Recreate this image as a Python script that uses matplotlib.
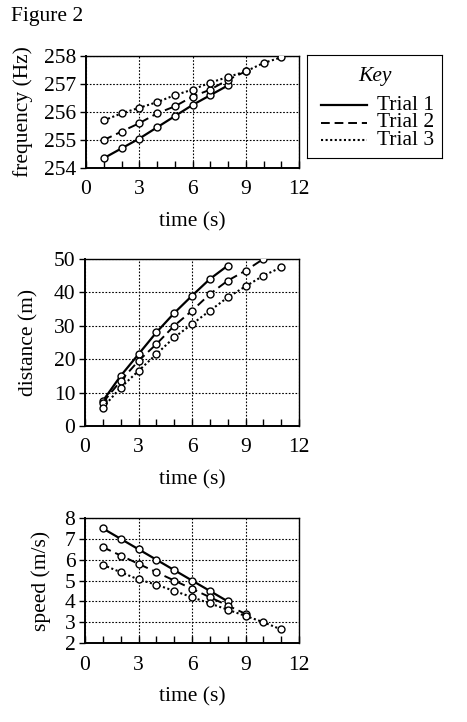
import matplotlib
matplotlib.use("Agg")
import matplotlib.pyplot as plt
from matplotlib.lines import Line2D

plt.rcParams['font.family'] = ['Liberation Serif', 'DejaVu Serif']

# data
t1 = [1, 2, 3, 4, 5, 6, 7, 8]
t2_freq = [1, 2, 3, 4, 5, 6, 7, 8, 9]
t3 = [1, 2, 3, 4, 5, 6, 7, 8, 9, 10, 11]
t2_dist = [1, 2, 3, 4, 5, 6, 7, 8, 9, 10]

freq1 = [254.35, 254.7, 255.05, 255.45, 255.85, 256.25, 256.6, 256.95]
freq2 = [255.0, 255.3, 255.6, 255.95, 256.2, 256.55, 256.8, 257.15, 257.45]
freq3 = [255.7, 255.95, 256.15, 256.35, 256.6, 256.8, 257.05, 257.25, 257.45, 257.75, 257.95]

dist1 = [7.5, 15, 21.5, 28, 33.8, 39, 44, 48]
dist2 = [7, 13.5, 19.5, 24.5, 30, 34.5, 39.5, 43.5, 46.5, 50]
dist3 = [5.5, 11.5, 16.5, 21.5, 26.5, 30.5, 34.5, 38.5, 41.8, 45, 47.5]

speed1 = [7.5, 7.0, 6.5, 6.0, 5.5, 5.0, 4.5, 4.0]
speed2 = [6.6, 6.2, 5.8, 5.4, 5.0, 4.6, 4.2, 3.8, 3.4]
speed3 = [5.75, 5.4, 5.05, 4.8, 4.5, 4.2, 3.9, 3.6, 3.3, 3.0, 2.65]

W, H = 467, 722
FS = 15.5
fig = plt.figure(figsize=(W / 100, H / 100), dpi=100)


def box(l, r, t, b):
    return [l / W, 1 - b / H, (r - l) / W, (b - t) / H]


styles = [('-', 1.6), ((0, (4.5, 2.5)), 1.4), ((0, (1, 1.2)), 1.5)]


def panel(rect, series, ylim, yticks, ylabel, ypad):
    ax = fig.add_axes(rect)
    for (x, y), (ls, lw) in zip(series, styles):
        ax.plot(x, y, color='black', linestyle=ls, linewidth=lw,
                marker='o', markersize=5, markerfacecolor='white',
                markeredgecolor='black', markeredgewidth=1.0, zorder=3)
    ax.set_xlim(0, 12)
    ax.set_ylim(*ylim)
    ax.set_xticks([0, 3, 6, 9, 12])
    ax.set_xticks(range(13), minor=True)
    ax.set_yticks(yticks)
    ax.grid(True, which='major', color='black', linestyle=(0, (1.5, 1.5)),
            linewidth=0.8)
    ax.tick_params(axis='x', which='both', direction='in', labelsize=FS,
                   length=5, width=1, pad=9)
    ax.tick_params(axis='y', direction='out', labelsize=FS, length=4,
                   width=1, pad=3)
    for s in ax.spines.values():
        s.set_linewidth(1.0)
    ax.spines['bottom'].set_linewidth(1.4)
    ax.spines['left'].set_linewidth(1.4)
    ax.set_xlabel('time (s)', fontsize=FS, labelpad=9)
    ax.set_ylabel(ylabel, fontsize=FS, labelpad=ypad)
    return ax


panel(box(86, 299, 56, 168),
      [(t1, freq1), (t2_freq, freq2), (t3, freq3)],
      (254, 258), [254, 255, 256, 257, 258], 'frequency (Hz)', 8)
panel(box(85, 299, 259, 426),
      [(t1, dist1), (t2_dist, dist2), (t3, dist3)],
      (0, 50), [0, 10, 20, 30, 40, 50], 'distance (m)', 11)
panel(box(85, 299, 518, 643),
      [(t1, speed1), (t2_freq, speed2), (t3, speed3)],
      (2, 8), [2, 3, 4, 5, 6, 7, 8], 'speed (m/s)', 10)

fig.text(11 / W, 1 - 16 / H, 'Figure 2', fontsize=FS, va='center', ha='left')

# key box
kax = fig.add_axes(box(307, 442, 55, 158))
kax.set_xticks([])
kax.set_yticks([])
kax.set_xlim(0, 1)
kax.set_ylim(0, 1)
kax.text(0.5, 0.79, 'Key', style='italic', fontsize=FS, ha='center',
         va='center')
labels = ['Trial 1', 'Trial 2', 'Trial 3']
rows = [0.51, 0.34, 0.17]
for (ls, lw), lab, yy in zip(styles, labels, rows):
    kax.add_line(Line2D([0.104, 0.444], [yy, yy], color='black',
                        linestyle=ls, linewidth=lw))
    kax.text(0.52, yy, lab, fontsize=FS, ha='left', va='center')

fig.savefig('out.png', dpi=100)
